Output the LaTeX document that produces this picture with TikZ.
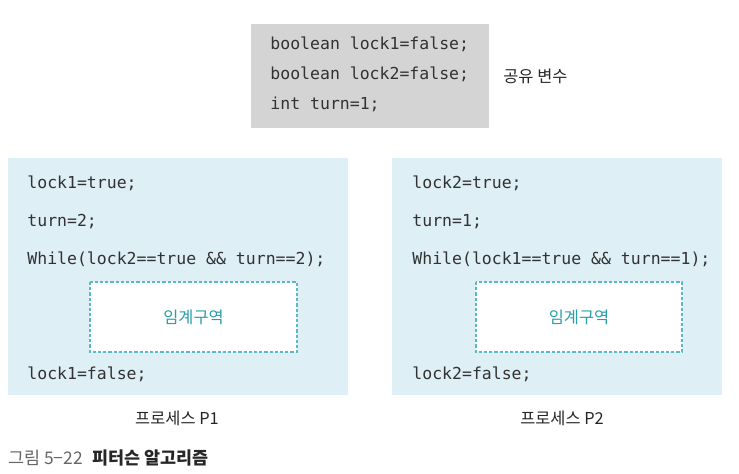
\documentclass[tikz,border=0pt]{standalone}
\usepackage{fontspec}
\setmonofont{DejaVu Sans Mono}
\newfontfamily\krfont{Noto Sans CJK KR}
\definecolor{sharedgray}{RGB}{212,212,212}
\definecolor{procblue}{RGB}{222,239,245}
\definecolor{critteal}{RGB}{90,186,196}
\definecolor{critText}{RGB}{40,160,170}
\definecolor{codegray}{RGB}{50,50,50}
\tikzset{
	codeline/.style={anchor=base west, inner sep=0pt, text=codegray, font=\ttfamily\fontsize{8.25}{10}\selectfont},
	krlabel/.style={inner sep=0pt, text=black!85, font=\krfont\fontsize{8.2}{10}\selectfont},
	critbox/.style={draw=critteal, fill=white, line width=0.7pt, dash pattern=on 1.6pt off 1pt}
}

\begin{document}
\begin{tikzpicture}[x=0.5pt, y=-0.5pt]
		%%%%% START %%%%%
		\useasboundingbox (0,0) rectangle (739,474);
		
		% shared variables
		\fill[sharedgray] (251,24) rectangle (489,128);
		\node[codeline] (lockA) at (270,50) {boolean lock1=false;};
		\node[codeline] (lockB) at (270,80) {boolean lock2=false;};
		\node[codeline] (turn) at (270,110) {int turn=1;};
		\node[krlabel, anchor=base west] (shared) at (503,83) {공유 변수};
		
		% process P1
		\fill[procblue] (8,158) rectangle (348,395);
		\node[codeline] (pA1) at (27,189) {lock1=true;};
		\node[codeline] (pA2) at (27,227) {turn=2;};
		\node[codeline] (pA3) at (27,265) {While(lock2==true \&\& turn==2);};
		\draw[critbox] (90,282) rectangle (297,352);
		\node[krlabel, text=critText] (critA) at (193.5,317) {임계구역};
		\node[codeline] (pA4) at (27,380) {lock1=false;};
		\node[krlabel, anchor=base] (procA) at (177,425) {프로세스 P1};
		
		% process P2
		\fill[procblue] (392,158) rectangle (722,395);
		\node[codeline] (pB1) at (412,189) {lock2=true;};
		\node[codeline] (pB2) at (412,227) {turn=1;};
		\node[codeline] (pB3) at (412,265) {While(lock1==true \&\& turn==1);};
		\draw[critbox] (476,282) rectangle (682,352);
		\node[krlabel, text=critText] (critB) at (579,317) {임계구역};
		\node[codeline] (pB4) at (412,380) {lock2=false;};
		\node[krlabel, anchor=base] (procB) at (562,425) {프로세스 P2};
		
		% caption
		\node[krlabel, anchor=base west, font=\krfont\fontsize{8.7}{10}\selectfont] (caption) at (8,465) {{\color{black!60}그림 5−22}\hspace{5pt}{\bfseries 피터슨 알고리즘}};
		
		%%%%% END %%%%%
\end{tikzpicture}
\end{document}
